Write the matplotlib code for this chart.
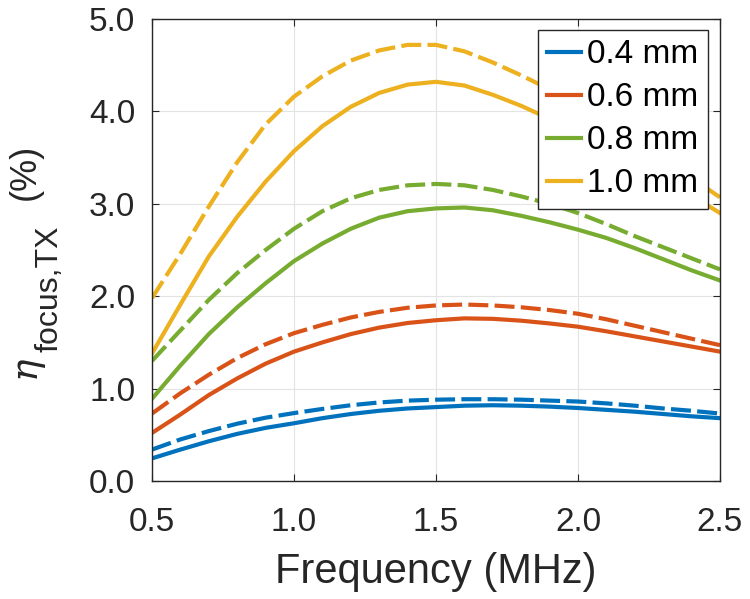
import numpy as np
import matplotlib
matplotlib.use('Agg')
import matplotlib.pyplot as plt

plt.rcParams['font.family'] = ['Liberation Sans', 'DejaVu Sans']

# Frequency grid (MHz)
freq = [0.5, 0.6, 0.7, 0.8, 0.9, 1.0, 1.1, 1.2, 1.3, 1.4, 1.5,
        1.6, 1.7, 1.8, 1.9, 2.0, 2.1, 2.2, 2.3, 2.4, 2.5]

labels = ['0.4 mm', '0.6 mm', '0.8 mm', '1.0 mm']
colors = ['#0072BD', '#D95319', '#77AC30', '#EDB120']

# solid curves
eta_04 = [0.245, 0.34, 0.43, 0.51, 0.575, 0.625, 0.68, 0.725, 0.76, 0.785, 0.80,
          0.815, 0.82, 0.815, 0.805, 0.79, 0.77, 0.75, 0.725, 0.70, 0.68]
eta_06 = [0.52, 0.72, 0.93, 1.11, 1.27, 1.40, 1.50, 1.59, 1.66, 1.71, 1.74,
          1.76, 1.755, 1.735, 1.705, 1.67, 1.62, 1.565, 1.51, 1.455, 1.40]
eta_08 = [0.89, 1.25, 1.59, 1.88, 2.14, 2.38, 2.57, 2.73, 2.85, 2.92, 2.95,
          2.96, 2.93, 2.87, 2.80, 2.72, 2.63, 2.52, 2.40, 2.28, 2.17]
eta_10 = [1.38, 1.91, 2.43, 2.86, 3.24, 3.57, 3.84, 4.05, 4.20, 4.29, 4.32,
          4.28, 4.18, 4.06, 3.92, 3.78, 3.62, 3.45, 3.27, 3.09, 2.90]

# dashed curves
eta_04_d = [0.34, 0.45, 0.54, 0.62, 0.685, 0.735, 0.78, 0.82, 0.85, 0.87, 0.88,
            0.885, 0.885, 0.88, 0.87, 0.86, 0.84, 0.815, 0.785, 0.76, 0.73]
eta_06_d = [0.73, 0.95, 1.15, 1.33, 1.48, 1.60, 1.69, 1.77, 1.83, 1.875, 1.90,
            1.91, 1.90, 1.88, 1.85, 1.81, 1.75, 1.68, 1.61, 1.54, 1.47]
eta_08_d = [1.30, 1.63, 1.96, 2.25, 2.50, 2.73, 2.92, 3.06, 3.15, 3.20, 3.215,
            3.20, 3.15, 3.08, 3.00, 2.90, 2.78, 2.65, 2.53, 2.41, 2.29]
eta_10_d = [1.98, 2.46, 2.97, 3.45, 3.86, 4.16, 4.38, 4.55, 4.66, 4.72, 4.72,
            4.65, 4.53, 4.39, 4.24, 4.07, 3.88, 3.68, 3.48, 3.28, 3.07]

solid = [eta_04, eta_06, eta_08, eta_10]
dashed = [eta_04_d, eta_06_d, eta_08_d, eta_10_d]

W, H = 750, 599
fig = plt.figure(figsize=(7.5, 5.99), dpi=100)
ax = fig.add_axes([152/W, 1 - 481/H, 568/W, 462/H])

lines = []
for s, d, c, lab in zip(solid, dashed, colors, labels):
    l, = ax.plot(freq, s, color=c, lw=3.0, label=lab)
    ax.plot(freq, d, color=c, lw=3.0, dashes=(4.8, 1.5))
    lines.append(l)

ax.set_xlim(0.5, 2.5)
ax.set_ylim(0, 5)
ax.set_xticks([0.5, 1.0, 1.5, 2.0, 2.5])
ax.set_xticklabels(['0.5', '1.0', '1.5', '2.0', '2.5'])
ax.set_yticks([0, 1, 2, 3, 4, 5])
ax.set_yticklabels(['0.0', '1.0', '2.0', '3.0', '4.0', '5.0'])
ax.grid(True, color='#e3e3e3', lw=0.8)
ax.tick_params(direction='in', length=5, top=True, right=True,
               labelsize=24, colors='#262626')
ax.tick_params(axis='x', pad=19)
ax.tick_params(axis='y', pad=12)
for sp in ax.spines.values():
    sp.set_color('#262626')
    sp.set_linewidth(1.0)

ax.set_xlabel('Frequency (MHz)', fontsize=30, color='#262626', labelpad=10)

# y label built from pieces (MATLAB-style big, dropped subscript)
tc = '#262626'
fig.text(35/W, 1 - 378/H, '\u03b7', rotation=90, rotation_mode='anchor',
         ha='left', va='baseline', fontsize=27, color=tc,
         family='DejaVu Serif', style='italic')
fig.text(57/W, 1 - 352/H, 'focus,TX', rotation=90, rotation_mode='anchor',
         ha='left', va='baseline', fontsize=23, color=tc)
fig.text(35/W, 1 - 200/H, '(%)', rotation=90, rotation_mode='anchor',
         ha='left', va='baseline', fontsize=26, color=tc)

leg = ax.legend(handles=lines, loc='upper right', bbox_to_anchor=(0.979, 0.976),
                borderaxespad=0, fontsize=24, handlelength=1.0, handletextpad=0.2,
                labelspacing=0.36, borderpad=0.28, fancybox=False, framealpha=1)
leg.get_frame().set_edgecolor('#262626')
leg.get_frame().set_linewidth(1.0)

plt.savefig('out.png', dpi=100)
